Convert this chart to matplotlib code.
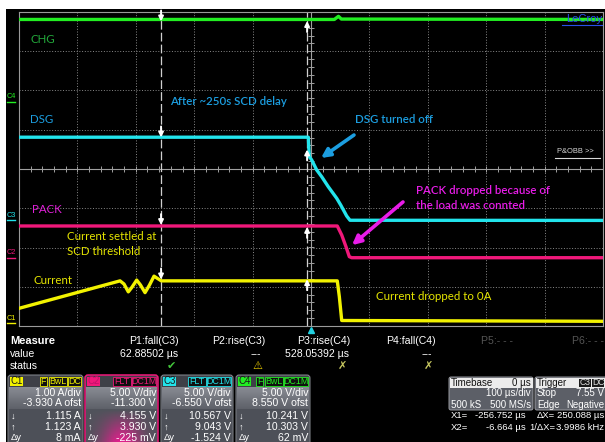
import numpy as np
import matplotlib
matplotlib.use("Agg")
from matplotlib import pyplot as plt
from matplotlib import font_manager
from matplotlib.patches import Rectangle, FancyBboxPatch
from matplotlib.transforms import blended_transform_factory

###############################################################################
# SCOPE SETTINGS AND TRACE DATA ###############################################
###############################################################################

# Horizontal: 100 us/div, 10 divisions, trigger at 0 us
time_per_div = 100.0
x1_cursor = -256.752
x2_cursor = -6.664

# Channel settings (units/div and offset, as shown in the channel boxes)
ch_names = ["C1", "C2", "C3", "C4"]
ch_scale = [1.0, 5.0, 5.0, 5.0]
ch_offset = [-3.930, -11.300, -6.550, 8.550]
ch_colors = ["#f2f200", "#f0187a", "#22e4ec", "#22ee22"]

# C1: current [A]
current_t = [-500, -327, -320.2, -312.8, -306.5, -298.5, -292.0, -284.2, -276.5,
             -268.8, -263.7, -256.3, 45, 48.5, 52.6, 500]
current_a = [0.38, 1.08, 1.00, 0.80, 0.92, 1.10, 0.975, 0.78, 0.975,
             1.20, 1.15, 1.08, 1.08, 0.68, 0.07, 0.05]

# C2: PACK [V]
pack_t = [-500, 45, 52.6, 59.9, 65.6, 69.7, 500]
pack_v = [4.04, 4.04, 2.89, 1.40, 0.13, 0.0, 0.0]

# C3: DSG [V]
dsg_t = [-500, -4.6, -2.9, 1.2, 9.8, 18.3, 29.6, 44.0, 50.9, 61.1, 66.8, 500]
dsg_v = [10.60, 10.60, 8.12, 7.70, 6.42, 5.57, 4.29, 2.82, 1.96, 0.56, 0.02, 0.0]

# C4: CHG [V]
chg_t = [-500, 40, 47, 52, 500]
chg_v = [10.5, 10.5, 10.9, 10.55, 10.5]

# Cursor readouts per channel (C1..C4)
cursor_down = [1.115, 4.155, 10.567, 10.241]
cursor_up = [1.123, 3.930, 9.043, 10.303]

# Channel box texts
ch_tags = [["F", "BwL", "DC"], ["FLT", "DC1M"], ["FLT", "DC1M"], ["F", "BwL", "DC1M"]]
ch_rows = [
    ["1.00 A/div", "-3.930 A ofst", "1.115 A", "1.123 A", "8 mA"],
    ["5.00 V/div", "-11.300 V", "4.155 V", "3.930 V", "-225 mV"],
    ["5.00 V/div", "-6.550 V ofst", "10.567 V", "9.043 V", "-1.524 V"],
    ["5.00 V/div", "8.550 V ofst", "10.241 V", "10.303 V", "62 mV"],
]

# Measurement table
meas_names = ["P1:fall(C3)", "P2:rise(C3)", "P3:rise(C4)", "P4:fall(C4)", "P5:- - -", "P6:- - -"]
meas_values = ["62.88502 µs", "---", "528.05392 µs", "---", "", ""]
meas_status = ["ok", "warn", "none", "none", "", ""]

# Timebase / trigger / cursor readout
timebase_rows = [("Timebase", "0 µs"), ("", "100 µs/div"), ("500 kS", "500 MS/s")]
trigger_rows = [("Trigger", ""), ("Stop", "7.55 V"), ("Edge", "Negative")]
cursor_rows = [("X1=", "-256.752 µs", "ΔX=", "250.088 µs"),
               ("X2=", "-6.664 µs", "1/ΔX=", "3.9986 kHz")]


def to_div(values, ch):
    """Convert channel units to screen divisions."""
    return (np.asarray(values, dtype=float) + ch_offset[ch]) / ch_scale[ch]


def main():
    available = {f.name for f in font_manager.fontManager.ttflist}
    panel_font = "Liberation Sans Narrow" if "Liberation Sans Narrow" in available else "Liberation Sans"
    note_font = "Lato" if "Lato" in available else "DejaVu Sans"
    pfam = [panel_font, "DejaVu Sans"]

    fig = plt.figure(figsize=(6.05, 4.42), dpi=100, facecolor="white")

    # background axes in pixel units (screen frame + bottom panel)
    bg = fig.add_axes([0, 0, 1, 1])
    bg.set_xlim(0, 605)
    bg.set_ylim(442, 0)
    bg.axis("off")
    bg.add_patch(Rectangle((6, 9), 600, 434, fc="black", ec="none"))

    ###########################################################################
    # WAVEFORM GRID ###########################################################
    ###########################################################################
    sc = fig.add_axes([19 / 605, (442 - 326) / 442, 584 / 605, 314 / 442])
    sc.set_facecolor("black")
    sc.set_xlim(-5 * time_per_div, 5 * time_per_div)
    sc.set_ylim(-4, 4)
    sc.set_xticks([])
    sc.set_yticks([])
    for s in sc.spines.values():
        s.set_color("#9a9a9a")
        s.set_linewidth(0.8)

    grid_kw = dict(color="#8a8a8a", lw=0.7, ls=(0, (1, 1.8)), zorder=1)
    for k in range(-4, 5):
        if k != 0:
            sc.axvline(k * time_per_div, **grid_kw)
    for k in range(-3, 4):
        if k != 0:
            sc.axhline(k, **grid_kw)
    sc.axvline(0, color="#a0a0a0", lw=0.8, zorder=1)
    sc.axhline(0, color="#a0a0a0", lw=0.8, zorder=1)
    sc.vlines(np.arange(-480, 500, 20), -0.07, 0.07, color="#a0a0a0", lw=0.7, zorder=1)
    sc.hlines(np.arange(-3.8, 4.0, 0.2), -5, 5, color="#a0a0a0", lw=0.7, zorder=1)

    # cursors
    cur_kw = dict(color="#d0d0d0", lw=0.9, ls=(0, (7, 2.5)), zorder=2)
    sc.axvline(x1_cursor, **cur_kw)
    sc.axvline(x2_cursor, **cur_kw)

    ###########################################################################
    # TRACES ##################################################################
    ###########################################################################
    traces = [(3, chg_t, chg_v), (2, dsg_t, dsg_v), (1, pack_t, pack_v), (0, current_t, current_a)]
    for ch, t, v in traces:
        sc.plot(t, to_div(v, ch), color=ch_colors[ch], lw=2.4, zorder=3,
                solid_joinstyle="round", solid_capstyle="round")

    # cursor arrows (down at X1, up at X2)
    for ch in range(4):
        sc.annotate("", xy=(x1_cursor, to_div(cursor_down[ch], ch)), xytext=(0, 11),
                    textcoords="offset pixels", zorder=5,
                    arrowprops=dict(arrowstyle="-|>", color="white", lw=1.4,
                                    mutation_scale=7, shrinkA=0, shrinkB=0))
        sc.annotate("", xy=(x2_cursor, to_div(cursor_up[ch], ch)), xytext=(0, -11),
                    textcoords="offset pixels", zorder=5,
                    arrowprops=dict(arrowstyle="-|>", color="white", lw=1.4,
                                    mutation_scale=7, shrinkA=0, shrinkB=0))

    # channel ground markers on the left
    trans = blended_transform_factory(sc.transAxes, sc.transData)
    for ch in range(4):
        g = ch_offset[ch] / ch_scale[ch]
        sc.plot([-0.02, -0.006], [g, g], color=ch_colors[ch], lw=1.0, transform=trans, clip_on=False)
        sc.text(-0.013, g + 0.04, ch_names[ch], color=ch_colors[ch], fontsize=5.3,
                family="Liberation Sans", ha="center", va="bottom", transform=trans, clip_on=False)

    # trigger position marker
    sc.plot([0], [-4.1], marker="^", color="#22d0e0", ms=5, clip_on=False, zorder=6)

    ###########################################################################
    # ANNOTATIONS #############################################################
    ###########################################################################
    lbl = dict(fontsize=8.3, family=note_font, va="center", ha="left", zorder=6)
    sc.text(-481, 3.31, "CHG", color="#22a83a", **lbl)
    sc.text(-481, 1.25, "DSG", color="#1c9ee0", **lbl)
    sc.text(-478, -1.04, "PACK", color="#e020d8", **lbl)
    sc.text(-476, -2.85, "Current", color="#e6e600", **lbl)
    sc.text(-418, -1.71, "Current settled at", color="#e6e600", **lbl)
    sc.text(-418, -2.11, "SCD threshold", color="#e6e600", **lbl)
    sc.text(111, -3.24, "Current dropped to 0A", color="#e6e600", **lbl)
    sc.text(-241, 1.71, "After ~250s SCD delay", color="#1c9ee0", weight="semibold", **lbl)
    sc.text(75, 1.27, "DSG turned off", color="#1c9ee0", weight="semibold", **lbl)
    sc.text(180, -0.56, "PACK dropped because of", color="#e81ce8", weight="semibold", **lbl)
    sc.text(180, -0.94, "the load was connted", color="#e81ce8", weight="semibold", **lbl)

    sc.annotate("", xy=(17.1, 0.28), xytext=(73.6, 0.866), zorder=6,
                arrowprops=dict(arrowstyle="-|>", color="#1c9ee0", lw=2.6,
                                mutation_scale=13, shrinkA=0, shrinkB=0))
    sc.annotate("", xy=(70.2, -1.94), xytext=(157.5, -0.84), zorder=6,
                arrowprops=dict(arrowstyle="-|>", color="#e81ce8", lw=2.6,
                                mutation_scale=13, shrinkA=0, shrinkB=0))

    sc.text(0.998, 0.978, "LeCroy", transform=sc.transAxes, ha="right", va="center",
            color="#2850e8", fontsize=8, family="Liberation Sans", zorder=6)
    sc.plot([0.93, 0.998], [0.958, 0.958], transform=sc.transAxes, color="#2850e8", lw=0.8)
    sc.text(0.922, 0.556, "P&OBB >>", transform=sc.transAxes, ha="left", va="center",
            color="#d8d8d8", fontsize=5.4, family="Liberation Sans", zorder=6)
    sc.plot([0.918, 0.995], [0.536, 0.536], transform=sc.transAxes, color="#d8d8d8", lw=0.8)

    ###########################################################################
    # BOTTOM PANEL ############################################################
    ###########################################################################
    def ptext(x, y, s, ha="left", color="white", size=7.6, weight="normal", z=3):
        bg.text(x, y, s, ha=ha, va="center", color=color, fontsize=size,
                family=pfam, weight=weight, zorder=z)

    ptext(10, 341, "Measure", weight="bold", size=7.9)
    ptext(10, 354, "value")
    ptext(10, 366, "status")
    meas_right = [179, 265, 350, 436, 513, 604]
    status_sym = {"ok": ("✔", "#44c83c"), "warn": ("⚠", "#f0d000"), "none": ("✗", "#c8c860")}
    for i, name in enumerate(meas_names):
        ptext(meas_right[i], 341, name, ha="right", color="white" if i < 4 else "#555555")
        if meas_values[i]:
            ptext(meas_right[i] - (4 if meas_values[i] == "---" else 1), 354, meas_values[i], ha="right")
        if meas_status[i]:
            sym, col = status_sym[meas_status[i]]
            bg.text(meas_right[i] - 3, 366, sym, ha="right", va="center", color=col,
                    fontsize=8, family="DejaVu Sans", weight="bold")

    # channel boxes
    box_x = [8, 85, 161, 236]
    box_w = [75, 73, 72, 74]
    row_y = [392.5, 403.5, 416, 427, 438]
    grey_band = matplotlib.colors.LinearSegmentedColormap.from_list("g", ["#888b93", "#5e6169"])
    pink_band = matplotlib.colors.LinearSegmentedColormap.from_list("m", ["#50535b", "#e0208c"])
    for ch in range(4):
        x, w = box_x[ch], box_w[ch]
        edge = ch_colors[ch] if ch == 1 else "#8a8d94"
        bg.add_patch(FancyBboxPatch((x, 375), w, 72, boxstyle="round,pad=0,rounding_size=3",
                                    fc="#3e4047", ec=edge, lw=1.1 if ch == 1 else 0.7))
        bg.imshow(np.linspace(0, 1, 20)[:, None], extent=(x + 1, x + w - 1, 409, 387),
                  cmap=grey_band, aspect="auto", zorder=1.5)
        if ch == 1:
            gx = np.linspace(-1, 1, 40)[None, :]
            gy = np.linspace(0, 1, 20)[:, None]
            glow = np.exp(-(gx / 0.55) ** 2) * gy
            bg.imshow(glow, extent=(x + 1, x + w - 1, 442, 409), aspect="auto", zorder=1.5, cmap=pink_band)
        else:
            bg.add_patch(Rectangle((x + 1, 409), w - 2, 34, fc="#4d5058", ec="none", zorder=1.5))

        # header label and tags
        bg.add_patch(Rectangle((x + 2, 376.5), 13, 9, fc=ch_colors[ch], ec="none", zorder=2))
        bg.text(x + 8.5, 381, ch_names[ch], ha="center", va="center", fontsize=7,
                color="#c0106a" if ch == 1 else "#1a1a1a", family=pfam, zorder=3)
        right = x + w - 2
        for tag in reversed(ch_tags[ch]):
            tw = len(tag) * 5.4 + 2
            bg.add_patch(Rectangle((right - tw, 376.5), tw, 9, fc="#101010", ec=ch_colors[ch],
                                   lw=0.6, zorder=2))
            bg.text(right - tw / 2, 381, tag, ha="center", va="center", fontsize=6.4,
                    color=ch_colors[ch], family=pfam, zorder=3)
            right -= tw + 1.5

        for r, s in enumerate(ch_rows[ch]):
            ptext(x + w - 2, row_y[r], s, ha="right")
        for r, s in zip([2, 3, 4], ["↓", "↑", "Δy"]):
            ptext(x + 3, row_y[r], s, size=6.8)

    # timebase and trigger boxes
    for bx, bw, rows in [(449, 84, timebase_rows), (535, 75, trigger_rows)]:
        bg.add_patch(FancyBboxPatch((bx, 377), bw, 33, boxstyle="round,pad=0,rounding_size=2",
                                    fc="#5c5f67", ec="#9a9ca2", lw=0.7))
        bg.add_patch(Rectangle((bx + 0.5, 377.5), bw - 1, 10.5, fc="#ececec", ec="none", zorder=2))
        for r, (left_s, right_s) in enumerate(rows):
            col = "#111111" if r == 0 else "white"
            yy = [382.5, 393.5, 404.5][r]
            if left_s:
                ptext(bx + 2, yy, left_s, color=col, size=7.0)
            if right_s:
                ptext(min(bx + bw - 2, 604), yy, right_s, ha="right", color=col, size=7.0)
    for tx, tag in [(579, "C3"), (592, "DC")]:
        bg.add_patch(Rectangle((tx, 378.5), 12, 8.5, fc="#1a1a1a", ec="none", zorder=3))
        bg.text(tx + 6, 382.5, tag, ha="center", va="center", fontsize=6.2, color="#e0e0e0",
                family=pfam, zorder=4)

    for r, (a, b, c, d) in enumerate(cursor_rows):
        yy = [416, 427][r]
        ptext(451, yy, a, size=6.8)
        ptext(526, yy, b, ha="right", size=6.8)
        ptext(555, yy, c, ha="right", size=6.8)
        ptext(604, yy, d, ha="right", size=6.8)

    fig.savefig("out.png", dpi=100, facecolor="white")
    return 0


if __name__ == "__main__":
    main()
